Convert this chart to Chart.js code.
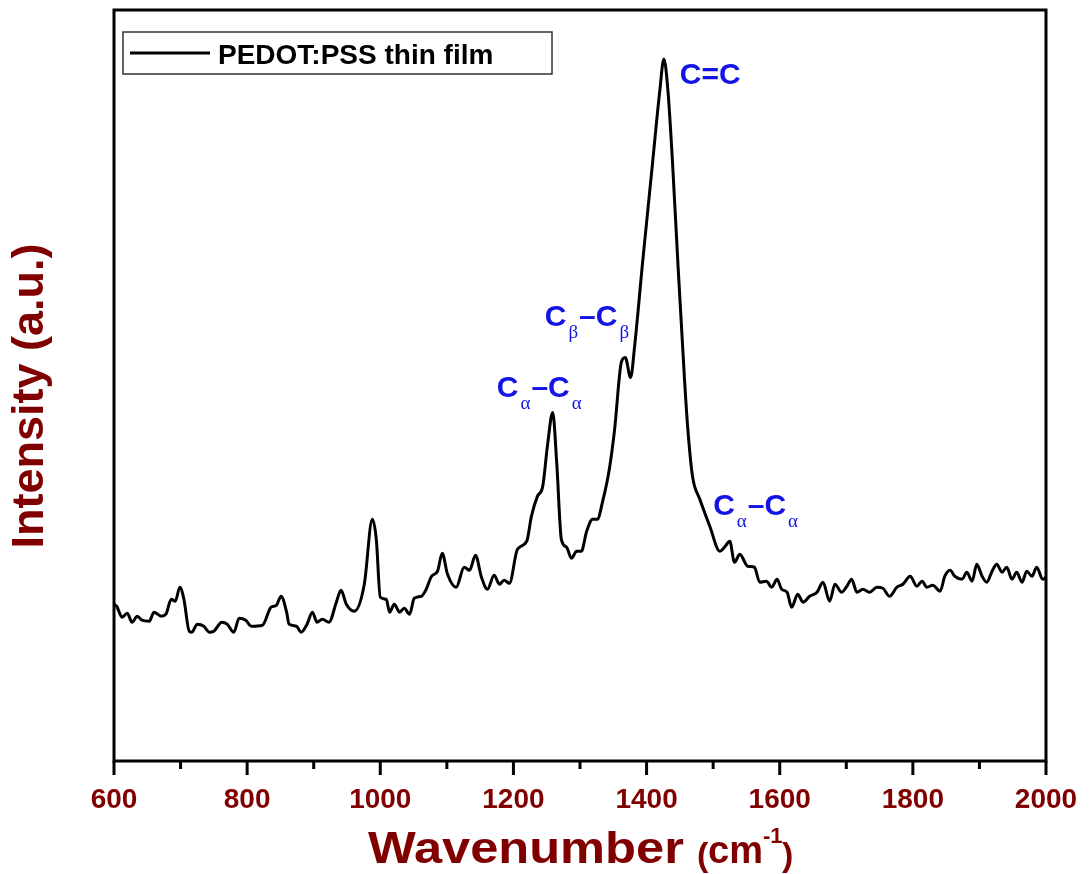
<!DOCTYPE html>
<html>
<head>
<meta charset="utf-8">
<script src="https://cdn.jsdelivr.net/npm/chart.js@4.4.1/dist/chart.umd.min.js"></script>
<style>
    html, body { margin: 0; padding: 0; background: #fff; }
    #wrap { width: 1090px; height: 874px; }
</style>
</head>
<body>
<div id="wrap"><canvas id="ramanChart" width="1090" height="874"></canvas></div>
<script>
// Raman spectrum (wavenumber in cm-1, intensity in arbitrary units)
const waveNumbers = [
    600, 604, 612, 620, 627, 635, 642, 653, 660, 671, 678, 686, 692, 699, 705, 713, 717, 725, 735, 743,
    750, 762, 770, 780, 788, 798, 806, 823, 836, 844, 851, 859, 863, 874, 881, 890, 898, 905, 913, 923,
    934, 941, 949, 961, 976, 988, 994, 1000, 1009, 1014, 1021, 1029, 1036, 1044, 1051, 1062, 1069, 1077, 1086, 1093,
    1101, 1114, 1126, 1134, 1143, 1152, 1161, 1171, 1179, 1186, 1194, 1206, 1220, 1227, 1236, 1244, 1251, 1259, 1265, 1272,
    1280, 1287, 1295, 1302, 1310, 1319, 1326, 1334, 1344, 1352, 1362, 1368, 1376, 1382, 1394, 1409, 1420, 1426, 1432, 1439,
    1447, 1457, 1462, 1469, 1480, 1495, 1510, 1517, 1525, 1532, 1540, 1552, 1562, 1570, 1580, 1588, 1596, 1603, 1611, 1618,
    1627, 1635, 1645, 1656, 1665, 1675, 1683, 1693, 1701, 1708, 1716, 1725, 1735, 1746, 1755, 1765, 1776, 1785, 1796, 1806,
    1814, 1821, 1830, 1841, 1848, 1856, 1863, 1874, 1881, 1889, 1896, 1904, 1911, 1919, 1926, 1934, 1941, 1949, 1956, 1964,
    1971, 1979, 1986, 1995, 2000
];
const intensity = [
    157, 155, 144, 148, 139, 145, 141, 140, 149, 145, 147, 162, 160, 174, 162, 130, 129, 137, 135, 129,
    130, 139, 137, 129, 143, 141, 135, 136, 154, 156, 165, 150, 137, 135, 129, 137, 149, 139, 142, 139,
    159, 171, 157, 150, 177, 242, 222, 164, 162, 149, 157, 149, 153, 147, 163, 165, 172, 185, 190, 208,
    187, 174, 194, 191, 206, 184, 172, 186, 177, 181, 178, 212, 220, 245, 265, 275, 315, 349, 299, 222,
    214, 203, 210, 210, 230, 242, 242, 260, 292, 332, 399, 404, 384, 415, 499, 599, 672, 703, 672, 599,
    499, 382, 332, 285, 262, 235, 210, 214, 220, 199, 207, 195, 194, 179, 180, 174, 182, 172, 169, 154,
    167, 159, 165, 169, 179, 160, 177, 169, 175, 182, 169, 172, 169, 174, 173, 165, 174, 177, 185, 175,
    180, 174, 176, 170, 185, 191, 185, 182, 189, 180, 197, 185, 179, 190, 197, 189, 194, 182, 189, 179,
    190, 185, 194, 182, 184
];
const seriesLabel = 'PEDOT:PSS thin film';
const majorTicks = [600, 800, 1000, 1200, 1400, 1600, 1800, 2000];
const minorTicks = [700, 900, 1100, 1300, 1500, 1700, 1900];

// peak assignments: alternating main text / subscript pieces, anchored at a wavenumber / intensity
const bondLabels = [
    { parts: ['C=C'], x: 1450, y: 678 },
    { parts: ['C', 'β', '–C', 'β'], x: 1247, y: 436 },
    { parts: ['C', 'α', '–C', 'α'], x: 1175, y: 364 },
    { parts: ['C', 'α', '–C', 'α'], x: 1500, y: 246 }
];

const darkRed = '#800000';
const blue = '#1414e6';

const decorations = {
    id: 'decorations',
    afterDraw(chart) {
        const ctx = chart.ctx;
        const area = chart.chartArea;
        const xs = chart.scales.x;
        const ys = chart.scales.y;
        ctx.save();

        // frame
        ctx.strokeStyle = '#000';
        ctx.lineWidth = 3;
        ctx.strokeRect(area.left, area.top, area.right - area.left, area.bottom - area.top);

        // outward tick marks on the bottom axis
        majorTicks.forEach(v => {
            const px = xs.getPixelForValue(v);
            ctx.beginPath();
            ctx.moveTo(px, area.bottom);
            ctx.lineTo(px, area.bottom + 14);
            ctx.stroke();
        });
        minorTicks.forEach(v => {
            const px = xs.getPixelForValue(v);
            ctx.beginPath();
            ctx.moveTo(px, area.bottom);
            ctx.lineTo(px, area.bottom + 8);
            ctx.stroke();
        });

        // legend box
        ctx.lineWidth = 1.5;
        ctx.strokeStyle = '#333';
        ctx.strokeRect(area.left + 9, area.top + 22, 429, 42);
        ctx.strokeStyle = '#000';
        ctx.lineWidth = 3;
        ctx.beginPath();
        ctx.moveTo(area.left + 16, area.top + 43);
        ctx.lineTo(area.left + 96, area.top + 43);
        ctx.stroke();
        ctx.fillStyle = '#000';
        ctx.font = 'bold 28px "Liberation Sans", Arial, sans-serif';
        ctx.textAlign = 'left';
        ctx.textBaseline = 'alphabetic';
        ctx.fillText(chart.data.datasets[0].label, area.left + 104, area.top + 54);

        // bond labels
        ctx.fillStyle = blue;
        bondLabels.forEach(lab => {
            let px = xs.getPixelForValue(lab.x);
            const py = ys.getPixelForValue(lab.y);
            lab.parts.forEach((t, i) => {
                if (i % 2 === 0) {
                    ctx.font = 'bold 30px "Liberation Sans", Arial, sans-serif';
                    ctx.fillText(t, px, py);
                } else {
                    ctx.font = '19px "Liberation Serif", "Times New Roman", serif';
                    ctx.fillText(t, px + 2, py + 12);
                }
                px += ctx.measureText(t).width + (i % 2 === 1 ? 3 : 0);
            });
        });

        // x axis title
        ctx.fillStyle = darkRed;
        ctx.save();
        ctx.translate(368, 863);
        ctx.scale(1.15, 1);
        ctx.font = 'bold 44px "Liberation Sans", Arial, sans-serif';
        ctx.fillText('Wavenumber', 0, 0);
        ctx.restore();
        ctx.font = 'bold 34px "Liberation Sans", Arial, sans-serif';
        ctx.fillText('(', 697, 866);
        ctx.font = 'bold 38px "Liberation Sans", Arial, sans-serif';
        ctx.fillText('cm', 708, 863);
        ctx.font = 'bold 22px "Liberation Sans", Arial, sans-serif';
        ctx.fillText('-1', 763, 843);
        ctx.font = 'bold 34px "Liberation Sans", Arial, sans-serif';
        ctx.fillText(')', 782, 866);

        // y axis title
        ctx.save();
        ctx.translate(31, 396);
        ctx.rotate(-Math.PI / 2);
        ctx.textAlign = 'center';
        ctx.textBaseline = 'middle';
        ctx.font = 'bold 45px "Liberation Sans", Arial, sans-serif';
        ctx.fillText('Intensity (a.u.)', 0, 0);
        ctx.restore();

        ctx.restore();
    }
};

const points = waveNumbers.map((w, i) => ({ x: w, y: intensity[i] }));

new Chart(document.getElementById('ramanChart').getContext('2d'), {
    type: 'line',
    data: {
        datasets: [{
            label: seriesLabel,
            data: points,
            borderColor: '#000',
            borderWidth: 3,
            pointRadius: 0,
            fill: false,
            cubicInterpolationMode: 'monotone'
        }]
    },
    options: {
        responsive: false,
        animation: false,
        layout: { autoPadding: false, padding: { left: 0, right: 44, top: 10, bottom: 0 } },
        plugins: {
            legend: { display: false },
            tooltip: { enabled: false }
        },
        scales: {
            x: {
                type: 'linear',
                min: 600,
                max: 2000,
                afterBuildTicks: (scale) => { scale.ticks = majorTicks.map(v => ({ value: v })); },
                afterFit: (scale) => {
                    scale.height = 113;
                    scale.paddingLeft = 0;
                    scale.paddingRight = 0;
                },
                grid: { display: false, drawTicks: false },
                border: { display: false },
                ticks: {
                    color: darkRed,
                    padding: 22,
                    maxRotation: 0,
                    callback: (v) => String(v),
                    font: { family: '"Liberation Sans", Arial, sans-serif', size: 28, weight: 'bold' }
                }
            },
            y: {
                min: 0,
                max: 752,
                afterFit: (scale) => {
                    scale.width = 114;
                    scale.paddingTop = 0;
                    scale.paddingBottom = 0;
                },
                grid: { display: false, drawTicks: false },
                border: { display: false },
                ticks: { display: false }
            }
        }
    },
    plugins: [decorations]
});
</script>
</body>
</html>
